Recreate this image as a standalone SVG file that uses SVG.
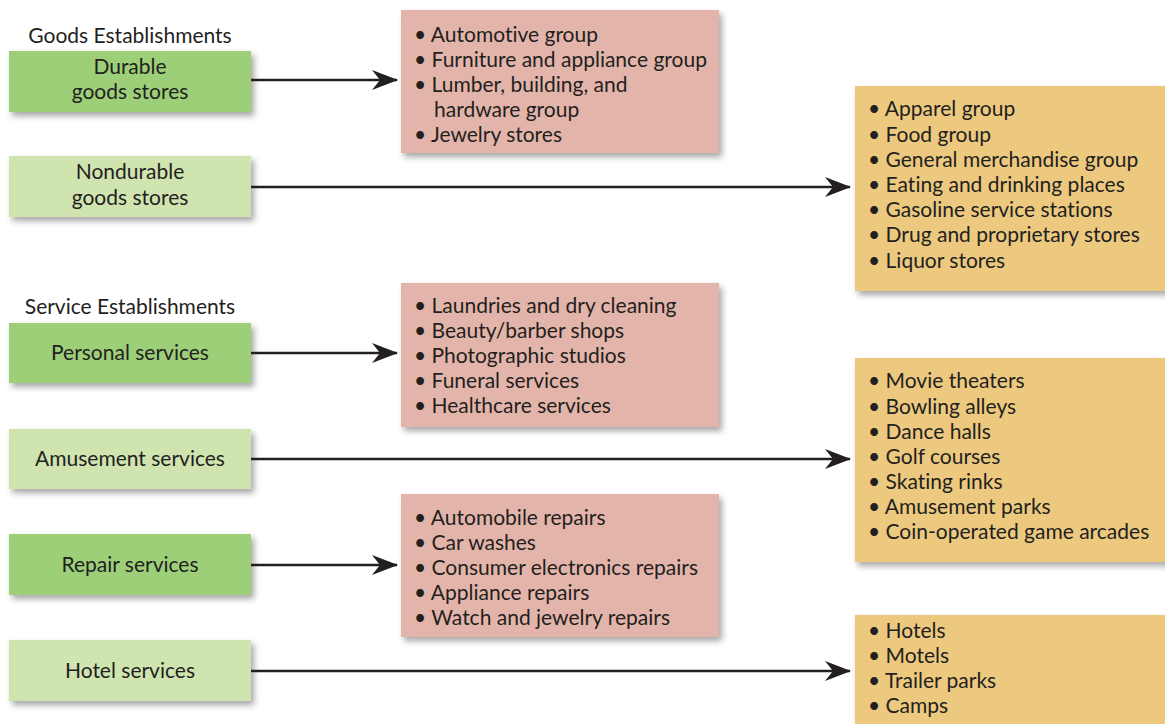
<svg xmlns="http://www.w3.org/2000/svg" width="1165" height="724" viewBox="0 0 1165 724">
<defs>
<filter id="sh" x="-10%" y="-10%" width="130%" height="140%">
<feDropShadow dx="3" dy="4" stdDeviation="3" flood-color="#000" flood-opacity="0.35"/>
</filter>
<marker id="ah" markerUnits="userSpaceOnUse" markerWidth="26" markerHeight="22" refX="25" refY="11" orient="auto">
<path d="M0,1 L26,11 L0,21 L8,11 Z" fill="#231f20"/>
</marker>
<style>
text{font-family:Lato,"Open Sans","Liberation Sans",sans-serif;font-size:21px;fill:#231f20;font-variant-ligatures:none}
.c{text-anchor:middle}
.dg{fill:#9ccf78}
.lg{fill:#d0e4b0}
.pk{fill:#e3b5aa}
.or{fill:#ecc97e}
.conn line{stroke:#231f20;stroke-width:2.6}
</style>
</defs>
<rect width="1165" height="724" fill="#fff"/>
<text x="130" y="43" class="c" id="h1">Goods Establishments</text>
<text x="130" y="314" class="c" id="h2">Service Establishments</text>

<g id="n-durable"><rect x="9" y="51" width="242" height="61" class="dg" filter="url(#sh)"/><text x="130" y="74" class="c">Durable</text><text x="130" y="99" class="c">goods stores</text></g>
<g id="n-nondurable"><rect x="9" y="156" width="242" height="61" class="lg" filter="url(#sh)"/><text x="130" y="179" class="c">Nondurable</text><text x="130" y="205" class="c">goods stores</text></g>
<g id="n-personal"><rect x="9" y="323" width="242" height="60" class="dg" filter="url(#sh)"/><text x="130" y="360" class="c">Personal services</text></g>
<g id="n-amusement"><rect x="9" y="429" width="242" height="60" class="lg" filter="url(#sh)"/><text x="130" y="466" class="c">Amusement services</text></g>
<g id="n-repair"><rect x="9" y="534" width="242" height="61" class="dg" filter="url(#sh)"/><text x="130" y="572" class="c">Repair services</text></g>
<g id="n-hotel"><rect x="9" y="640" width="242" height="61" class="lg" filter="url(#sh)"/><text x="130" y="678" class="c">Hotel services</text></g>

<g id="l-durable"><rect x="401" y="10" width="318" height="143" class="pk" filter="url(#sh)"/>
<text x="414" y="42">• Automotive group</text>
<text x="414" y="67">• Furniture and appliance group</text>
<text x="414" y="92">• Lumber, building, and</text>
<text x="434" y="117">hardware group</text>
<text x="414" y="142">• Jewelry stores</text></g>

<g id="l-nondurable"><rect x="855" y="86" width="315" height="205" class="or" filter="url(#sh)"/>
<text x="868" y="116">• Apparel group</text>
<text x="868" y="142">• Food group</text>
<text x="868" y="167">• General merchandise group</text>
<text x="868" y="192">• Eating and drinking places</text>
<text x="868" y="217">• Gasoline service stations</text>
<text x="868" y="242">• Drug and proprietary stores</text>
<text x="868" y="268">• Liquor stores</text></g>

<g id="l-personal"><rect x="401" y="283" width="318" height="144" class="pk" filter="url(#sh)"/>
<text x="414" y="313">• Laundries and dry cleaning</text>
<text x="414" y="338">• Beauty/barber shops</text>
<text x="414" y="363">• Photographic studios</text>
<text x="414" y="388">• Funeral services</text>
<text x="414" y="413">• Healthcare services</text></g>

<g id="l-amusement"><rect x="855" y="358" width="315" height="204" class="or" filter="url(#sh)"/>
<text x="868" y="388">• Movie theaters</text>
<text x="868" y="414">• Bowling alleys</text>
<text x="868" y="439">• Dance halls</text>
<text x="868" y="464">• Golf courses</text>
<text x="868" y="489">• Skating rinks</text>
<text x="868" y="514">• Amusement parks</text>
<text x="868" y="539">• Coin-operated game arcades</text></g>

<g id="l-repair"><rect x="401" y="494" width="318" height="143" class="pk" filter="url(#sh)"/>
<text x="414" y="525">• Automobile repairs</text>
<text x="414" y="550">• Car washes</text>
<text x="414" y="575">• Consumer electronics repairs</text>
<text x="414" y="600">• Appliance repairs</text>
<text x="414" y="625">• Watch and jewelry repairs</text></g>

<g id="l-hotel"><rect x="855" y="615" width="315" height="120" class="or" filter="url(#sh)"/>
<text x="868" y="638">• Hotels</text>
<text x="868" y="663">• Motels</text>
<text x="868" y="688">• Trailer parks</text>
<text x="868" y="713">• Camps</text></g>

<g id="connectors" class="conn">
<line x1="251" y1="80" x2="397" y2="80" marker-end="url(#ah)"/>
<line x1="251" y1="187" x2="850" y2="187" marker-end="url(#ah)"/>
<line x1="251" y1="353" x2="397" y2="353" marker-end="url(#ah)"/>
<line x1="251" y1="459" x2="850" y2="459" marker-end="url(#ah)"/>
<line x1="251" y1="565" x2="397" y2="565" marker-end="url(#ah)"/>
<line x1="251" y1="671" x2="850" y2="671" marker-end="url(#ah)"/>
</g>
</svg>
